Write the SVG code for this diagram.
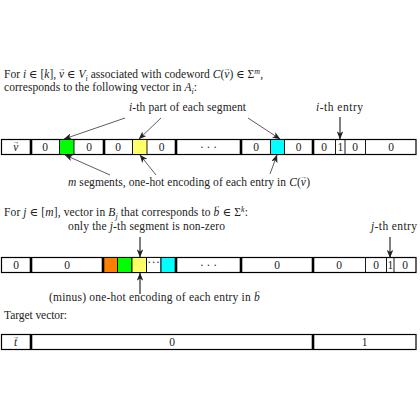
<svg xmlns="http://www.w3.org/2000/svg" width="420" height="420" viewBox="0 0 420 420" font-family="'Liberation Serif','DejaVu Serif',serif">
<style>
text{font-family:"Liberation Serif","DejaVu Serif",serif;font-size:11.5px;fill:#222}
.c{text-anchor:middle}
.i{font-style:italic}
.sub{font-style:italic;font-size:8px}
.box{fill:#fff;stroke:#000;stroke-width:1.2}
.thin{stroke:#000;stroke-width:0.9}
.thick{stroke:#000;stroke-width:2.6}
.lbl{stroke:#333;stroke-width:0.8;fill:none}
.vert{stroke:#000;stroke-width:1;fill:none}
.acc{font-size:6.5px;font-style:normal}
</style>
<defs>
<marker id="ah" viewBox="0 0 10 8" refX="9.5" refY="4" markerWidth="8" markerHeight="6.4" orient="auto" markerUnits="userSpaceOnUse">
<path d="M0,0 L10,4 L0,8 L2.5,4 z" fill="#222"/>
</marker>
</defs>
<rect width="420" height="420" fill="#fff"/>

<g id="intro">
<text x="4" y="78" textLength="259" lengthAdjust="spacing">For <tspan class="i">i</tspan> ∈ [<tspan class="i">k</tspan>], <tspan class="i">v</tspan><tspan class="acc" dx="-5.5" dy="-7">→</tspan><tspan dx="-0.9" dy="7"> ∈ </tspan><tspan class="i">V</tspan><tspan class="sub" dy="2.5">i</tspan><tspan dy="-2.5"> associated with codeword </tspan><tspan class="i">C</tspan>(<tspan class="i">v</tspan><tspan class="acc" dx="-5.5" dy="-7">→</tspan><tspan dx="-0.9" dy="7">) ∈ Σ</tspan><tspan class="sub" dy="-4.5">m</tspan><tspan dy="4.5">,</tspan></text>
<text x="4" y="91" textLength="193" lengthAdjust="spacing">corresponds to the following vector in <tspan class="i">A</tspan><tspan class="sub" dy="2.5">i</tspan><tspan dy="-2.5">:</tspan></text>
</g>

<g id="row1">
<rect class="box" x="1.5" y="139.5" width="414.5" height="15"/>
<rect x="59.5" y="139.5" width="14.5" height="15" fill="#00ff00" stroke="#000" stroke-width="0.9"/>
<rect x="132.5" y="139.5" width="14.5" height="15" fill="#ffff66" stroke="#000" stroke-width="0.9"/>
<rect x="270.5" y="139.5" width="14" height="15" fill="#00ffff" stroke="#000" stroke-width="0.9"/>
<line class="thick" x1="31" y1="139.5" x2="31" y2="154.5"/>
<line class="thick" x1="104" y1="139.5" x2="104" y2="154.5"/>
<line class="thick" x1="176" y1="139.5" x2="176" y2="154.5"/>
<line class="thick" x1="241" y1="139.5" x2="241" y2="154.5"/>
<line class="thick" x1="313" y1="139.5" x2="313" y2="154.5"/>
<line class="thin" x1="335.5" y1="139.5" x2="335.5" y2="154.5"/>
<line class="thin" x1="345" y1="139.5" x2="345" y2="154.5"/>
<line class="thin" x1="365.5" y1="139.5" x2="365.5" y2="154.5"/>
<text class="c i" x="16" y="151">v<tspan class="acc" dx="-5.5" dy="-7">→</tspan></text>
<text class="c" x="45" y="151">0</text>
<text class="c" x="89" y="151">0</text>
<text class="c" x="118" y="151">0</text>
<text class="c" x="161.5" y="151">0</text>
<text class="c" x="208.5" y="151">· · ·</text>
<text class="c" x="256" y="151">0</text>
<text class="c" x="298.5" y="151">0</text>
<text class="c" x="324" y="151">0</text>
<text class="c" x="340.3" y="151">1</text>
<text class="c" x="355" y="151">0</text>
<text class="c" x="391" y="151">0</text>
</g>

<g id="row1-labels">
<text x="129" y="111" textLength="117" lengthAdjust="spacing"><tspan class="i">i</tspan>-th part of each segment</text>
<text x="316" y="111" textLength="47" lengthAdjust="spacing"><tspan class="i">i</tspan>-th entry</text>
<text x="68" y="186" textLength="242" lengthAdjust="spacing"><tspan class="i">m</tspan> segments, one-hot encoding of each entry in <tspan class="i">C</tspan>(<tspan class="i">v</tspan><tspan class="acc" dx="-5.5" dy="-7">→</tspan><tspan dx="-0.9" dy="7">)</tspan></text>
</g>

<g id="row2-intro">
<text x="4" y="216" textLength="244" lengthAdjust="spacing">For <tspan class="i">j</tspan> ∈ [<tspan class="i">m</tspan>], vector in <tspan class="i">B</tspan><tspan class="sub" dy="2.5">j</tspan><tspan dy="-2.5"> that corresponds to </tspan><tspan class="i">b</tspan><tspan class="acc" dx="-5.5" dy="-8.5">→</tspan><tspan dx="-0.9" dy="8.5"> ∈ Σ</tspan><tspan class="sub" dy="-4.5">k</tspan><tspan dy="4.5">:</tspan></text>
<text x="68" y="230" textLength="157" lengthAdjust="spacing">only the <tspan class="i">j</tspan>-th segment is non-zero</text>
<text x="371" y="230" textLength="46" lengthAdjust="spacing"><tspan class="i">j</tspan>-th entry</text>
<text x="49" y="301" textLength="212" lengthAdjust="spacing">(minus) one-hot encoding of each entry in <tspan class="i">b</tspan><tspan class="acc" dx="-5.5" dy="-8.5">→</tspan></text>
</g>

<g id="row2">
<rect class="box" x="1.5" y="257.5" width="414.5" height="15"/>
<rect x="103" y="257.5" width="14.5" height="15" fill="#ff8000" stroke="#000" stroke-width="0.9"/>
<rect x="117.5" y="257.5" width="14.5" height="15" fill="#00ff00" stroke="#000" stroke-width="0.9"/>
<rect x="132" y="257.5" width="14.5" height="15" fill="#ffff66" stroke="#000" stroke-width="0.9"/>
<rect x="146.5" y="257.5" width="14.5" height="15" fill="#fff" stroke="#000" stroke-width="0.9"/>
<rect x="161" y="257.5" width="15" height="15" fill="#00ffff" stroke="#000" stroke-width="0.9"/>
<line class="thick" x1="31" y1="257.5" x2="31" y2="272.5"/>
<line class="thick" x1="103" y1="257.5" x2="103" y2="272.5"/>
<line class="thick" x1="176" y1="257.5" x2="176" y2="272.5"/>
<line class="thick" x1="241" y1="257.5" x2="241" y2="272.5"/>
<line class="thick" x1="313" y1="257.5" x2="313" y2="272.5"/>
<line class="thin" x1="365.5" y1="257.5" x2="365.5" y2="272.5"/>
<line class="thin" x1="386.5" y1="257.5" x2="386.5" y2="272.5"/>
<line class="thin" x1="394" y1="257.5" x2="394" y2="272.5"/>
<text class="c" x="16" y="269">0</text>
<text class="c" x="67" y="269">0</text>
<text class="c" x="153.8" y="266" font-size="9" letter-spacing="0.5">···</text>
<text class="c" x="208.5" y="269">· · ·</text>
<text class="c" x="277" y="269">0</text>
<text class="c" x="339" y="269">0</text>
<text class="c" x="376" y="269">0</text>
<text class="c" x="390.3" y="269">1</text>
<text class="c" x="405" y="269">0</text>
</g>

<g id="target">
<text x="4" y="319" textLength="63" lengthAdjust="spacing">Target vector:</text>
<rect class="box" x="1.5" y="334.5" width="414.5" height="15"/>
<line class="thick" x1="31" y1="334.5" x2="31" y2="349.5"/>
<line class="thick" x1="313" y1="334.5" x2="313" y2="349.5"/>
<text class="c i" x="16" y="346">t<tspan class="acc" dx="-4.5" dy="-7.5">→</tspan></text>
<text class="c" x="172" y="346">0</text>
<text class="c" x="364.5" y="346">1</text>
</g>

<g id="connectors">
<line class="lbl" x1="125" y1="118" x2="64" y2="139" marker-end="url(#ah)"/>
<line class="lbl" x1="161" y1="118" x2="139" y2="139" marker-end="url(#ah)"/>
<line class="lbl" x1="248" y1="118" x2="280" y2="139" marker-end="url(#ah)"/>
<line class="vert" x1="340" y1="117" x2="340" y2="139" marker-end="url(#ah)"/>
<line class="lbl" x1="110" y1="175" x2="65" y2="155" marker-end="url(#ah)"/>
<line class="lbl" x1="156" y1="175" x2="140" y2="155" marker-end="url(#ah)"/>
<line class="lbl" x1="270" y1="174" x2="277" y2="155" marker-end="url(#ah)"/>
<line class="vert" x1="140" y1="237" x2="140" y2="257" marker-end="url(#ah)"/>
<line class="vert" x1="140" y1="294" x2="140" y2="273" marker-end="url(#ah)"/>
<line class="vert" x1="390" y1="237" x2="390" y2="257.5" marker-end="url(#ah)"/>
</g>
</svg>
